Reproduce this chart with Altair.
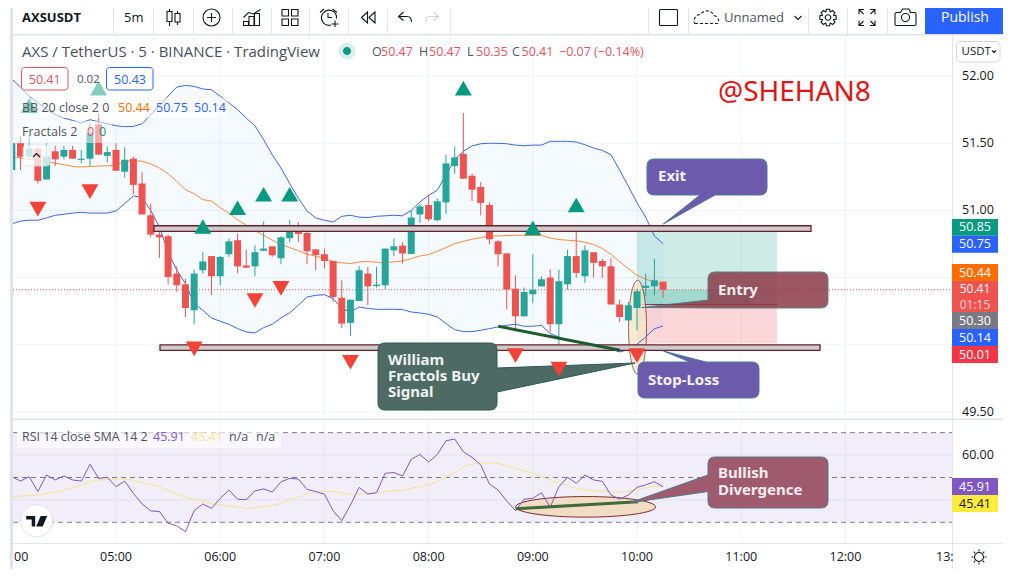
import math
import altair as alt
import pandas as pd

minutes = list(range(240, 620, 5))
opens = [51.30,51.50,51.40,51.46,51.23,51.44,51.40,51.45,51.376,51.385,51.64,51.406,51.45,51.288,51.385,51.20,
         50.964,50.82,50.808,50.53,50.45,50.257,50.555,50.66,50.51,50.674,50.778,50.59,50.584,50.70,50.733,50.644,
         50.793,50.84,50.832,50.71,50.674,50.624,50.35,50.163,50.326,50.53,50.438,50.443,50.703,50.738,50.676,50.97,
         51.04,50.927,51.06,51.33,51.42,51.258,51.174,51.04,50.77,50.681,50.418,50.212,50.376,50.435,50.50,50.153,
         50.45,50.66,50.51,50.689,50.624,50.584,50.30,50.182,50.274,50.423,50.435,50.47]
highs = [51.53,51.55,51.56,51.47,51.50,51.48,51.48,51.48,51.45,51.65,51.72,51.476,51.50,51.47,51.40,51.285,
         51.05,50.85,50.82,50.584,50.49,50.56,50.69,50.66,50.66,50.79,50.827,50.708,50.74,50.917,50.733,50.807,
         50.93,50.914,50.847,50.71,50.716,50.624,50.48,50.336,50.584,50.58,50.58,50.716,50.79,50.765,51.0,51.05,
         51.113,51.088,51.414,51.476,51.725,51.273,51.21,51.06,50.778,50.681,50.517,50.426,50.674,50.51,50.56,50.56,
         50.708,50.847,50.74,50.689,50.641,50.641,50.336,50.319,50.418,50.53,50.64,50.47]
lows = [51.30,51.30,51.38,51.20,51.23,51.33,51.38,51.385,51.35,51.33,51.415,51.357,51.295,51.245,51.12,50.97,
        50.80,50.646,50.45,50.393,50.207,50.153,50.53,50.37,50.443,50.654,50.535,50.574,50.51,50.698,50.654,50.60,
        50.765,50.765,50.60,50.555,50.567,50.32,50.125,50.066,50.326,50.294,50.426,50.413,50.66,50.604,50.676,50.907,
        50.92,50.92,50.974,51.273,51.236,51.07,50.964,50.748,50.584,50.264,50.10,50.212,50.31,50.435,50.096,50.004,
        50.41,50.50,50.46,50.50,50.497,50.30,50.17,50.182,50.108,50.36,50.368,50.35]
closes = [51.50,51.40,51.46,51.22,51.40,51.38,51.45,51.385,51.385,51.575,51.415,51.434,51.295,51.377,51.19,50.97,
          50.82,50.80,50.505,50.443,50.274,50.53,50.62,50.51,50.654,50.77,50.584,50.574,50.689,50.716,50.666,50.80,
          50.84,50.825,50.696,50.669,50.624,50.356,50.158,50.336,50.555,50.435,50.448,50.716,50.733,50.68,50.947,51.03,
          50.934,51.068,51.35,51.395,51.236,51.154,51.056,50.785,50.674,50.413,50.212,50.393,50.41,50.488,50.153,50.473,
          50.66,50.535,50.703,50.61,50.584,50.30,50.207,50.294,50.398,50.44,50.48,50.41]
bb_upper = [51.978,51.918,51.85,51.80,51.754,51.712,51.687,51.67,51.65,51.675,51.66,51.645,51.63,51.623,51.625,51.645,
            51.712,51.78,51.85,51.918,51.93,51.923,51.903,51.898,51.85,51.80,51.75,51.687,51.63,51.526,51.414,51.315,
            51.20,51.09,50.996,50.944,50.927,50.914,50.956,50.964,50.95,50.947,50.956,50.96,50.964,50.96,51.0,51.063,
            51.113,51.15,51.265,51.377,51.44,51.48,51.496,51.5,51.499,51.496,51.486,51.481,51.486,51.486,51.514,51.514,
            51.514,51.509,51.489,51.464,51.447,51.414,51.30,51.18,51.056,50.95,50.81,50.753]
bb_lower = [50.90,50.92,50.927,50.927,50.944,50.964,50.971,50.98,50.986,50.98,50.98,50.98,50.996,51.05,51.108,51.095,
            51.0,50.877,50.69,50.555,50.455,50.306,50.257,50.2,50.175,50.153,50.12,50.096,50.088,50.128,50.153,50.2,
            50.237,50.294,50.356,50.368,50.373,50.344,50.27,50.244,50.282,50.27,50.264,50.264,50.264,50.262,50.244,50.237,
            50.227,50.207,50.158,50.113,50.098,50.098,50.108,50.12,50.133,50.145,50.153,50.138,50.138,50.145,50.083,50.058,
            50.034,50.021,50.009,50.001,49.984,49.967,49.947,49.964,50.004,50.058,50.12,50.14]
bb_basis = [51.40,51.392,51.38,51.372,51.365,51.352,51.34,51.327,51.323,51.327,51.33,51.332,51.335,51.365,51.372,51.365,
            51.347,51.315,51.273,51.216,51.154,51.124,51.08,51.07,51.02,50.98,50.93,50.89,50.85,50.815,50.778,50.746,
            50.723,50.70,50.674,50.66,50.641,50.62,50.61,50.604,50.617,50.62,50.614,50.61,50.617,50.624,50.641,50.661,
            50.671,50.696,50.723,50.753,50.77,50.785,50.798,50.808,50.81,50.813,50.815,50.815,50.813,50.813,50.795,50.783,
            50.778,50.773,50.763,50.746,50.716,50.674,50.617,50.567,50.517,50.488,50.468,50.44]
rsi = [50.4,48.4,50.4,43.7,51.1,48.9,50.7,48.9,48.4,55.9,49.6,50.1,45.9,48.4,42.9,38.2,
       35.1,34.8,29.6,28.4,25.8,35.2,38.2,36.2,40.7,44.4,40.3,40.1,44.0,44.9,43.5,48.1,
       49.6,49.3,44.7,43.7,42.6,35.2,30.7,37.7,45.6,42.6,43.2,51.9,52.2,50.7,58.1,60.3,
       56.9,60.3,66.4,67.2,61.5,59.0,55.6,47.1,44.4,39.5,35.2,40.3,40.7,43.2,36.7,45.9,
       50.1,47.4,51.1,48.9,48.3,42.2,40.3,42.2,45.6,46.7,48.1,45.91]
rsi_sma = [41.4,41.7,42.0,42.2,42.9,43.5,44.4,45.5,46.5,48.0,48.9,49.2,49.2,49.3,48.9,47.8,
           46.9,45.9,44.1,42.6,41.2,40.3,39.5,38.2,37.7,37.3,36.7,36.2,36.4,37.0,37.6,38.5,
           40.0,41.2,42.6,43.4,43.8,43.7,43.2,42.5,42.6,42.9,43.2,43.7,44.1,44.3,45.2,45.9,
           46.7,48.1,50.1,52.3,54.8,56.0,56.5,56.6,56.3,55.3,54.1,53.0,51.9,50.4,48.9,47.4,
           46.4,45.2,44.4,44.0,43.8,43.5,43.4,43.7,44.7,45.5,45.9,46.0]

up_m = [250, 290, 350, 370, 385, 400, 500, 540, 565]
up_p = [51.78, 51.91, 50.88, 51.02, 51.12, 51.12, 51.91, 50.87, 51.04]
down_m = [255, 285, 345, 380, 395, 435, 530, 555, 600]
down_p = [51.01, 51.14, 49.97, 50.33, 50.42, 49.87, 49.92, 49.82, 49.92]

hour_m = [300, 360, 420, 480, 540, 600, 660, 720]
hour_txt = ["05:00", "06:00", "07:00", "08:00", "09:00", "10:00", "11:00", "12:00"]
price_grid = [52.0, 51.5, 51.0, 50.5, 50.0, 49.5]
price_ticks = [52.0, 51.5, 51.0, 49.5]
price_tick_txt = ["52.00", "51.50", "51.00", "49.50"]
rsi_grid = [60, 40]
rsi_bands = [70, 50, 30]

FONT = "Open Sans"
TEAL, RED = "#26a69a", "#ef5350"
X_M = alt.Scale(domain=[237.81, 810.72], nice=False, zero=False, padding=0)
Y_P = alt.Scale(domain=[48.332, 52.506], nice=False, zero=False)
Y_R = alt.Scale(domain=[9.15, 259.6], nice=False, zero=False)


def xq(f="m"):
    return alt.X(f"{f}:Q", scale=X_M, axis=None)


def yq(f="p", scale=Y_P):
    return alt.Y(f"{f}:Q", scale=scale, axis=None)


def blank():
    return alt.Chart(alt.Data(values=[{"k": 1}]))


def box(x0, y0, x1, y1, color, **kw):
    x1, y1 = min(x1, 1003), min(y1, 569)
    return blank().mark_rect(color=color, **kw).encode(
        x=alt.value(x0 - 8), x2=alt.value(x1 - 8), y=alt.value(y0 - 8), y2=alt.value(y1 - 8))


def label(x, y, text, color="#131722", size=12.5, weight="normal", align="left", font=FONT, **kw):
    return blank().mark_text(text=text, color=color, fontSize=size, fontWeight=weight, align=align,
                             baseline="middle", font=font, **kw).encode(x=alt.value(x - 8), y=alt.value(y - 8))


def icon(cx, cy, path, stroke="#131722", sw=1.1, **kw):
    return blank().mark_point(shape=path, size=4, filled=False, stroke=stroke, strokeWidth=sw, opacity=1, **kw).encode(
        x=alt.value(cx - 8), y=alt.value(cy - 8))


def circ(r):
    return f"M{-r},0A{r},{r} 0 1,1 {r},0A{r},{r} 0 1,1 {-r},0Z"


def rpoly(verts):
    parts = []
    n = len(verts)
    for i, (x, y, r) in enumerate(verts):
        if r == 0:
            parts.append(f"{'M' if i == 0 else 'L'}{x-8:.1f},{y-8:.1f}")
            continue
        px, py, _ = verts[i - 1]
        nx, ny, _ = verts[(i + 1) % n]
        d1 = math.hypot(px - x, py - y)
        d2 = math.hypot(nx - x, ny - y)
        a = (x + (px - x) * r / d1, y + (py - y) * r / d1)
        b = (x + (nx - x) * r / d2, y + (ny - y) * r / d2)
        parts.append(f"{'M' if i == 0 else 'L'}{a[0]-8:.1f},{a[1]-8:.1f}Q{x-8:.1f},{y-8:.1f} {b[0]-8:.1f},{b[1]-8:.1f}")
    return "".join(parts) + "Z"


def callout(verts, fill, stroke, op=1.0):
    return blank().mark_point(shape=rpoly(verts), size=4, filled=True, fill=fill, stroke=stroke,
                              strokeWidth=1, opacity=op).encode(x=alt.value(0), y=alt.value(0))


def gear():
    pts = []
    for i in range(8):
        c = i * math.pi / 4
        for d, r in ((-0.36, 6.0), (-0.2, 8.4), (0.2, 8.4), (0.36, 6.0)):
            pts.append((r * math.sin(c + d), -r * math.cos(c + d)))
    return "M" + "L".join(f"{a:.1f},{b:.1f}" for a, b in pts) + "Z" + circ(2.8)


def sun():
    s = circ(4.5)
    for i in range(8):
        c = i * math.pi / 4
        s += f"M{5.5*math.cos(c):.1f},{5.5*math.sin(c):.1f}L{7.5*math.cos(c):.1f},{7.5*math.sin(c):.1f}"
    return s


candles = pd.DataFrame({"m": minutes, "o": opens, "h": highs, "l": lows, "c": closes,
                        "u": bb_upper, "d": bb_lower, "b": bb_basis, "r": rsi, "s": rsi_sma})
candles["dir"] = ["up" if c >= o else "down" for o, c in zip(opens, closes)]
color = alt.Color("dir:N", scale=alt.Scale(domain=["up", "down"], range=[TEAL, RED]), legend=None)
ups = pd.DataFrame({"m": up_m, "p": up_p})
downs = pd.DataFrame({"m": down_m, "p": down_p})
hours = pd.DataFrame({"m": hour_m, "t": hour_txt})
pgrid = pd.DataFrame({"p": price_grid})
pticks = pd.DataFrame({"p": price_ticks, "t": price_tick_txt})
rgrid = pd.DataFrame({"p": rsi_grid})
rband = pd.DataFrame({"p": rsi_bands})


def prect(m0, m1, p0, p1, scale=Y_P, **kw):
    d = pd.DataFrame({"a": [m0], "b": [m1], "c": [p0], "e": [p1]})
    return alt.Chart(d).mark_rect(**kw).encode(x=xq("a"), x2=alt.X2("b:Q"), y=yq("c", scale), y2=alt.Y2("e:Q"))


def pline(ms, ps, scale=Y_P, **kw):
    d = pd.DataFrame({"m": ms, "p": ps})
    return alt.Chart(d).mark_line(**kw).encode(x=xq(), y=yq("p", scale))


def pshape(m, p, path, fill, stroke, scale=Y_P, op=1.0):
    d = pd.DataFrame({"m": [m], "p": [p]})
    return alt.Chart(d).mark_point(shape=path, size=4, filled=True, fill=fill, stroke=stroke, strokeWidth=1,
                                   opacity=op).encode(x=xq(), y=yq("p", scale))


def ell(rx, ry):
    return f"M{-rx},0A{rx},{ry} 0 1,0 {rx},0A{rx},{ry} 0 1,0 {-rx},0Z"


layers = []
A = layers.append

# price and rsi panes: grid, bands, indicator areas
A(alt.Chart(pgrid).mark_rule(color="#f0f3fa", strokeWidth=1).encode(y=yq(), x=alt.value(5), x2=alt.value(944)))
A(alt.Chart(hours).mark_rule(color="#f0f3fa", strokeWidth=1).encode(x=xq(), y=alt.value(27), y2=alt.value(535)))
A(prect(240.8, 781.4, 30, 70, scale=Y_R, color="#7e57c2", opacity=0.1))
A(alt.Chart(rgrid).mark_rule(color="#e6e2f2", strokeWidth=1).encode(y=yq("p", Y_R), x=alt.value(5), x2=alt.value(944)))
A(alt.Chart(rband).mark_rule(color="#787b86", strokeWidth=1, strokeDash=[5, 4]).encode(y=yq("p", Y_R), x=alt.value(5), x2=alt.value(944)))
A(alt.Chart(candles).mark_area(color="#2196f3", opacity=0.05).encode(x=xq(), y=yq("u"), y2=alt.Y2("d:Q")))
A(prect(600, 680.6, 50.30, 50.85, color="#089981", opacity=0.2))
A(prect(600, 680.6, 50.01, 50.30, color="#f23645", opacity=0.2))
A(prect(600, 665, 50.30, 50.41, color="#089981", opacity=0.22))
A(pline([600, 680.6], [50.30, 50.30], color="#7d3a45", strokeWidth=1))
A(pshape(600.3, 50.13, ell(9, 47), "#f8e6c6", "#7b2d2d", op=0.75))

# price line, bollinger lines, candles
A(alt.Chart(pd.DataFrame({"p": [50.41]})).mark_rule(color="#ef5350", strokeWidth=1, strokeDash=[1, 2]).encode(
    y=yq(), x=alt.value(5), x2=alt.value(944)))
A(alt.Chart(candles).mark_line(color="#ff8a3d", strokeWidth=1).encode(x=xq(), y=yq("b")))
A(alt.Chart(candles).mark_line(color="#3f66e0", strokeWidth=1).encode(x=xq(), y=yq("u")))
A(alt.Chart(candles).mark_line(color="#3f66e0", strokeWidth=1).encode(x=xq(), y=yq("d")))
A(alt.Chart(candles).mark_rule(strokeWidth=1).encode(x=xq(), y=yq("h"), y2=alt.Y2("l:Q"), color=color))
A(alt.Chart(candles).mark_bar(size=7).encode(x=xq(), y=yq("o"), y2=alt.Y2("c:Q"), color=color))

# rsi pane lines
A(pshape(570.4, 36.9, ell(70, 10.3), "#f3dcc4", "#7b2d2d", Y_R))
A(alt.Chart(candles).mark_line(color="#f5e394", strokeWidth=1).encode(x=xq(), y=yq("s", Y_R)))
A(alt.Chart(candles).mark_line(color="#7e57c2", strokeWidth=1).encode(x=xq(), y=yq("r", Y_R)))

# drawings: levels and trend lines
A(prect(300 + (154 - 116) * 0.5758, 300 + (811 - 116) * 0.5758, 50.844, 50.886, color="#cccccc", stroke="#6b1f2a", strokeWidth=1.3))
A(prect(300 + (160 - 116) * 0.5758, 300 + (820 - 116) * 0.5758, 49.958, 50.0, color="#cccccc", stroke="#6b1f2a", strokeWidth=1.3))
A(pline([520.1, 590.2], [50.138, 49.96], color="#1e5c2d", strokeWidth=3))
A(pline([530.1, 600.7], [36.0, 39.2], scale=Y_R, color="#3e6b3a", strokeWidth=3))

# callouts
PURPLE, PSTROKE = "#6c5bad", "#4a7a9a"
A(callout([(647, 159, 7), (767, 159, 7), (767, 195, 7), (715, 195, 0), (663.3, 224, 0), (700, 195, 0), (647, 195, 7)], PURPLE, PSTROKE))
A(callout([(708, 272, 7), (828, 272, 7), (828, 308, 7), (716, 308, 0), (641.7, 307.5, 0), (708, 300, 0)], "#8c3a48", "#3f6f7a", 0.85))
A(callout([(638, 362, 7), (690, 362, 0), (663.3, 351, 0), (706, 362, 0), (759, 362, 7), (759, 398, 7), (638, 398, 7)], PURPLE, PSTROKE))
A(callout([(378, 343, 7), (497, 343, 7), (497, 368, 0), (635, 363, 0), (497, 392, 0), (497, 410, 7), (378, 410, 7)], "#4d6b64", "#2d5a55"))
A(callout([(708, 457, 7), (828, 457, 7), (828, 508, 7), (708, 508, 7), (708, 491.5, 0), (630, 502.7, 0), (708, 475, 0)], "#a05a6e", "#4a7a8a"))
A(label(658, 176, "Exit", "#f4f2fb", 15, "bold", font="Noto Sans"))
A(label(718, 290, "Entry", "#f8eef0", 15, "bold", font="Noto Sans"))
A(label(648, 380, "Stop-Loss", "#f4f2fb", 15, "bold", font="Noto Sans"))
for yy, tt in zip([360, 376, 392], ["William", "Fractols Buy", "Signal"]):
    A(label(388, yy, tt, "#eef3f1", 15, "bold", font="Noto Sans"))
for yy, tt in zip([473, 490], ["Bullish", "Divergence"]):
    A(label(718, yy, tt, "#f8eef0", 15, "bold", font="Noto Sans"))
A(label(718, 93, "@SHEHAN8", "#e01515", 28, font="Noto Sans"))

# fractals sit above the drawings
A(alt.Chart(ups).mark_point(shape="triangle-up", size=285, filled=True, color="#089981", opacity=1).encode(x=xq(), y=yq()))
A(alt.Chart(downs).mark_point(shape="triangle-down", size=285, filled=True, color="#f44336", opacity=1).encode(x=xq(), y=yq()))

# legend backings
A(box(20, 66, 155, 97, "#ffffff", opacity=0.5))
A(box(20, 98, 228, 118, "#ffffff", opacity=0.5))
A(box(20, 121, 112, 143, "#ffffff", opacity=0.5))
A(box(23, 145, 50, 166, "#ffffff", opacity=0.75, cornerRadius=3, stroke="#e0e3eb", strokeWidth=1))
A(icon(36.5, 155.5, "M-3.5,1.5L0,-2L3.5,1.5", sw=1.2))
A(box(17, 428, 281, 448, "#ffffff", opacity=0.6))

# logo
A(blank().mark_point(shape=circ(16), size=4, filled=True, fill="#ffffff", stroke="#e0e3eb", strokeWidth=1, opacity=1).encode(
    x=alt.value(28.7), y=alt.value(513)))
A(blank().mark_point(shape="M-10.5,-5H-1.5V5.5H-5V-1.5H-10.5ZM4,-5H10.5L6,5.5H-0.5Z", size=4, filled=True, fill="#131722", strokeWidth=0, opacity=1).encode(
    x=alt.value(28.7), y=alt.value(513)))

# frame
A(box(8, 8, 10, 569, "#ffffff"))
A(box(10, 8, 13, 569, "#e0e3eb"))
A(box(953, 35, 1003, 569, "#ffffff"))
A(box(13, 544, 953, 569, "#ffffff"))
A(box(13, 8, 1003, 34, "#ffffff"))
A(box(13, 34, 1003, 35.5, "#e0e3eb"))
A(box(13, 418.5, 1003, 420, "#e0e3eb"))
A(box(13, 543, 1003, 544, "#e0e3eb"))
A(box(952, 35, 953, 569, "#e0e3eb"))
for xx in [113, 153, 193, 232, 271, 309, 348, 387, 450, 648, 688, 808, 847, 887]:
    A(box(xx, 8, xx + 1, 34, "#e0e3eb"))
A(box(925, 8, 1003, 34, "#2962ff"))

# toolbar text and icons (kept inside the drawable area below the page margin)
TY = 17.5
A(label(22, TY, "AXSUSDT", "#131722", 13, "bold"))
A(label(124, TY, "5m", "#131722", 13))
A(label(965, TY, "Publish", "#ffffff", 14, "normal", "center"))
A(label(724, TY, "Unnamed", "#50535e", 13))
A(icon(173.5, TY, "M-6.5,-6H-1.5V4H-6.5ZM-4,-6V-8.5M-4,4V8.5M1.5,-4H6.5V4.5H1.5ZM4,-4V-6.5M4,4.5V7.5"))
A(icon(211.5, TY, circ(8.5) + "M-4.5,0H4.5M0,-4.5V4.5"))
A(icon(251.5, TY, "M-8,8V4H-3V8ZM-2.5,8V-1H2.5V8ZM3,8V-4H8V8ZM-8,0L-3,-5L2,-3.5L9,-8"))
A(icon(290, TY, "M-8,-8H-1.5V-1.5H-8ZM1.5,-8H8V-1.5H1.5ZM-8,1.5H-1.5V8H-8ZM1.5,1.5H8V8H1.5Z"))
A(icon(329, TY, "M2,7.5A7.5,7.5 0 1,1 7.5,1M-1,-4.5V0H3M-9,-5L-5,-8.5M3.5,-8.5L8,-5M6,3V9.5M2.5,6.5H9.5"))
A(icon(368.5, TY, "M-1,-5.5L-7,0L-1,5.5ZM6.5,-5.5L0.5,0L6.5,5.5Z"))
A(icon(405, TY, "M-1.5,-5.5L-6.5,-1L-1.5,3M-6.5,-1H2C5,-1 6.5,1.5 6.5,4.5"))
A(icon(432, TY, "M1.5,-5.5L6.5,-1L1.5,3M6.5,-1H-2C-5,-1 -6.5,1.5 -6.5,4.5", stroke="#d1d4dc"))
A(icon(668.5, TY, "M-8,-8H8Q9,-8 9,-7V7Q9,8 8,8H-8Q-9,8 -9,7V-7Q-9,-8 -8,-8Z"))
A(icon(706, TY, "M-11,6H11C14,6 13,-1 8,-2C6,-7.5 -2,-8.5 -6,-3C-10,-3 -14,3 -11,6Z", strokeDash=[3, 2]))
A(icon(798, TY, "M-3.5,-1.5L0,2L3.5,-1.5"))
A(icon(828, TY, gear()))
A(icon(867, TY, "M-8,-3V-8H-3M-8,-8L-3.5,-3.5M3,-8H8V-3M8,-8L3.5,-3.5M8,3V8H3M8,8L3.5,3.5M-3,8H-8V3M-8,8L-3.5,3.5"))
A(icon(905.5, TY, "M-9,-5H-5L-3,-8.5H3.5L5,-5H9Q10.5,-5 10.5,-3.5V6.5Q10.5,8 9,8H-9Q-10.5,8 -10.5,6.5V-3.5Q-10.5,-5 -9,-5Z" + circ(4)))
A(icon(979, 557, sun()))

# legends
G, R = "#50535e", "#e2555f"
A(label(22, 52, "AXS / TetherUS · 5 · BINANCE · TradingView", "#4a4e5a", 15))
A(blank().mark_point(shape=circ(8.5), size=4, filled=True, fill="#d8f0ec", strokeWidth=0, opacity=1).encode(x=alt.value(339), y=alt.value(43)))
A(blank().mark_point(shape=circ(4), size=4, filled=True, fill="#089981", strokeWidth=0, opacity=1).encode(x=alt.value(339), y=alt.value(43)))
for xx, tt, cc in [(372, "O", G), (381, "50.47", R), (419, "H", G), (429, "50.47", R), (467, "L", G), (476, "50.35", R),
                   (512, "C", G), (521.5, "50.41", R), (559, "−0.07 (−0.14%)", R)]:
    A(label(xx, 52, tt, cc, 12.5))
A(box(21.5, 67.5, 68, 90, "#ffffff", stroke="#e2555f", strokeWidth=1, cornerRadius=3, fillOpacity=0))
A(box(106.5, 67.5, 153, 90, "#ffffff", stroke="#2962ff", strokeWidth=1, cornerRadius=3, fillOpacity=0))
A(label(44.7, 79.5, "50.41", R, 12.5, align="center"))
A(label(77, 79.5, "0.02", G, 11.5))
A(label(130, 79.5, "50.43", "#2962ff", 12.5, align="center"))
A(label(22, 107.5, "BB 20 close 2 0", G, 12.5))
A(label(118, 107.5, "50.44", "#ff6d00", 12.5))
A(label(156, 107.5, "50.75", "#2962ff", 12.5))
A(label(194, 107.5, "50.14", "#2962ff", 12.5))
A(label(22, 132, "Fractals 2", G, 12.5))
A(label(87, 132, "0", R, 12.5))
A(label(99, 132, "0", "#089981", 12.5))
A(label(22, 437, "RSI 14 close SMA 14 2", G, 12.5))
A(label(153, 437, "45.91", "#7e57c2", 12.5))
A(label(191, 437, "45.41", "#f5e394", 12.5))
A(label(229, 437, "n/a", G, 12.5))
A(label(256, 437, "n/a", G, 12.5))

# axes
A(alt.Chart(hours).mark_text(fontSize=12.5, font=FONT, color="#131722", baseline="middle").encode(
    x=xq(), y=alt.value(549), text="t:N"))
A(label(14, 557, "00", "#131722", 12.5))
A(label(936, 557, "13:", "#131722", 12.5))
A(alt.Chart(pticks).mark_text(fontSize=12.5, font=FONT, color="#131722", align="left", baseline="middle").encode(
    x=alt.value(954), y=yq(), text="t:N"))
A(label(962, 454.5, "60.00", "#131722", 12.5))
A(box(956.5, 41.5, 1000, 62, "#ffffff", stroke="#d1d4dc", strokeWidth=1, cornerRadius=4))
A(label(961.5, 51.5, "USDT", "#131722", 11.5))
A(icon(994, 51.5, "M-2,-1L0,1L2,-1"))

tags = [(219, 235.7, "#089981", "50.85", "#ffffff"), (235.7, 252.7, "#2962ff", "50.75", "#ffffff"),
        (264, 281, "#ff6d00", "50.44", "#ffffff"), (312, 329, "#787b86", "50.30", "#ffffff"),
        (329, 346, "#2962ff", "50.14", "#ffffff"), (346, 363, "#f23645", "50.01", "#ffffff"),
        (478, 495, "#7e57c2", "45.91", "#ffffff"), (495, 512, "#ffeb3b", "45.41", "#131722")]
A(box(952, 281, 998, 312, "#ef5350"))
A(label(975, 289, "50.41", "#ffffff", 12, align="center"))
A(label(975, 304.5, "01:15", "#fbd6d8", 12, align="center"))
for y0, y1, cc, tt, tc in tags:
    A(box(952, y0, 998, y1, cc))
    A(label(975, (y0 + y1) / 2, tt, tc, 12.5, align="center"))

chart = alt.layer(*layers).resolve_scale(y="independent").properties(
    width=995, height=561, padding=0, background="#ffffff",
    autosize=alt.AutoSizeParams(type="none")
).configure_view(stroke=None)

chart.save("out.html", embed_options={"renderer": "svg", "actions": False})
